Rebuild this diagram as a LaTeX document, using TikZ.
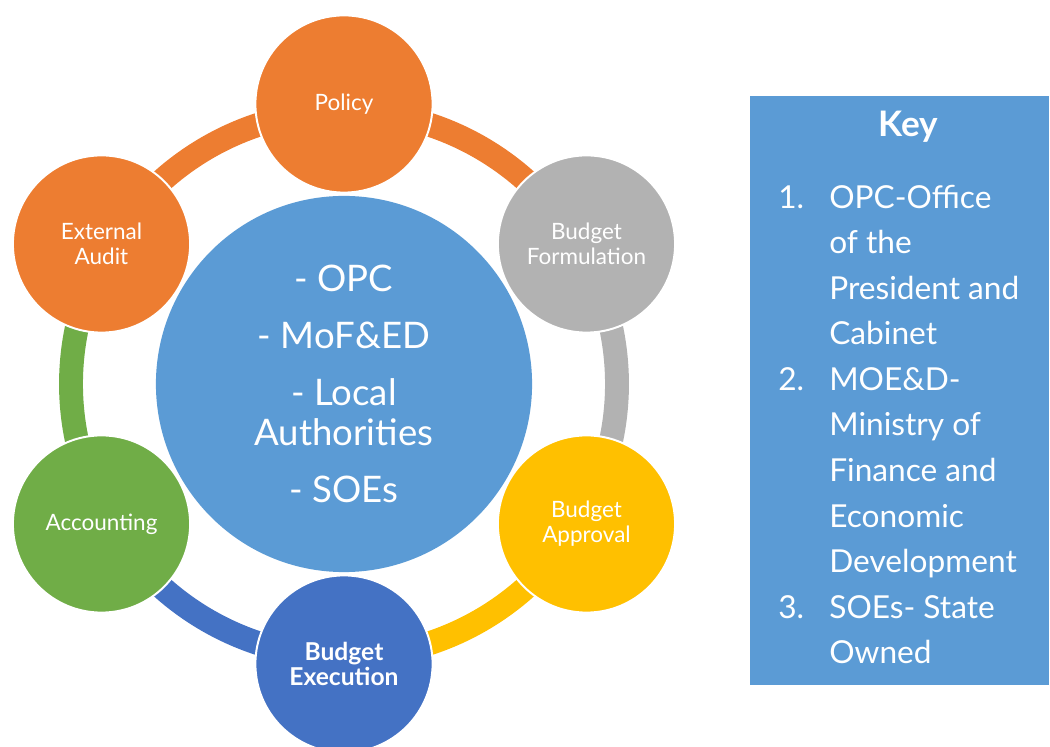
\documentclass[tikz,border=0pt]{standalone}
\usepackage{fontspec}
\setmainfont{Lato}
\usepackage{tikz}
\usepackage{xcolor}

\definecolor{stageorange}{HTML}{ED7D31}
\definecolor{stagegrey}{HTML}{B2B2B2}
\definecolor{stageyellow}{HTML}{FFC000}
\definecolor{stageblue}{HTML}{4472C4}
\definecolor{stagegreen}{HTML}{70AD47}
\definecolor{hubblue}{HTML}{5B9BD5}

\tikzset{
  stage/.style={circle, draw=white, line width=1.4pt, minimum size=126pt,
    inner sep=0pt, text=white, align=center, font=\fontsize{16}{17.8}\selectfont},
  ringarc/.style={line width=17pt},
  keytext/.style={text=white, inner sep=0pt, font=\fontsize{22.5}{32.4}\selectfont}
}

\begin{document}
\begin{tikzpicture}[x=0.025cm, y=0.025cm]
        \useasboundingbox (-344,-363) rectangle (706,384);

        % Anillo: un arco por etapa, del color de la etapa donde empieza
        \draw[ringarc, stageorange] (90:273) arc[start angle=90, end angle=30, radius=273];
        \draw[ringarc, stagegrey] (30:273) arc[start angle=30, end angle=-30, radius=273];
        \draw[ringarc, stageyellow] (-30:273) arc[start angle=-30, end angle=-90, radius=273];
        \draw[ringarc, stageblue] (-90:273) arc[start angle=-90, end angle=-150, radius=273];
        \draw[ringarc, stagegreen] (210:273) arc[start angle=210, end angle=150, radius=273];
        \draw[ringarc, stageorange] (150:273) arc[start angle=150, end angle=90, radius=273];

        % Circulo central con los actores
        \node[circle, fill=hubblue, minimum size=267.5pt, inner sep=0pt, text=white,
          align=center, font=\fontsize{26}{28.5}\selectfont] (hub) at (0,0)
          {- OPC\\[12pt] - MoF\&ED\\[12pt] - Local\\ Authorities\\[12pt] - SOEs};

        % Etapas del ciclo
        \node[stage, fill=stageorange] (policy) at (90:280) {Policy};
        \node[stage, fill=stagegrey] (formulation) at (30:280) {Budget\\Formulation};
        \node[stage, fill=stageyellow] (approval) at (-30:280) {Budget\\Approval};
        \node[stage, fill=stageblue, font=\fontsize{17.5}{17.8}\selectfont\bfseries] (execution) at (-90:280) {Budget\\Execution};
        \node[stage, fill=stagegreen] (accounting) at (210:280) {Accounting};
        \node[stage, fill=stageorange] (audit) at (150:280) {External\\Audit};

        % Recuadro de la clave
        \fill[hubblue] (406,288) rectangle (705,-301);
        \node[keytext, font=\fontsize{25}{32.4}\selectfont\bfseries, anchor=base] (keytitle) at (564,247) {Key};
        \node[keytext, anchor=north west] (keylist) at (434,208) {%
          \begin{tabular}{@{}p{36.3pt}@{}l@{}}
            1. & OPC-Office\\
               & of the\\
               & President and\\
               & Cabinet\\
            2. & MOE\&D-\\
               & Ministry of\\
               & Finance and\\
               & Economic\\
               & Development\\
            3. & SOEs- State\\
               & Owned
          \end{tabular}};
    \end{tikzpicture}
\end{document}
